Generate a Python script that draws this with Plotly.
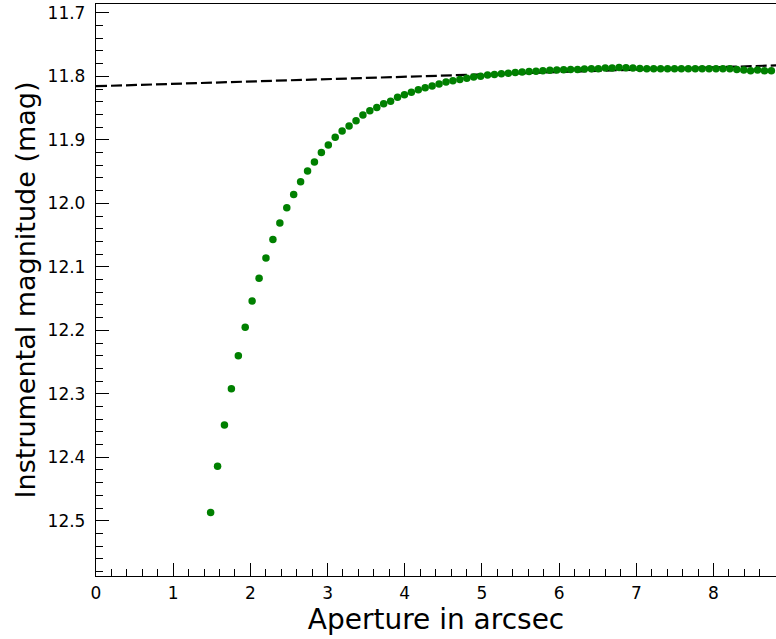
import plotly.graph_objects as go

aperture = [1.485, 1.575, 1.664, 1.754, 1.844, 1.933, 2.023, 2.113, 2.202, 2.292,
            2.382, 2.472, 2.561, 2.651, 2.741, 2.830, 2.920, 3.010, 3.099, 3.189,
            3.279, 3.369, 3.458, 3.548, 3.638, 3.727, 3.817, 3.907, 3.996, 4.086,
            4.176, 4.265, 4.355, 4.445, 4.535, 4.624, 4.714, 4.804, 4.893, 4.983,
            5.073, 5.162, 5.252, 5.342, 5.432, 5.521, 5.611, 5.701, 5.790, 5.880,
            5.970, 6.059, 6.149, 6.239, 6.328, 6.418, 6.508, 6.598, 6.687, 6.777,
            6.867, 6.956, 7.046, 7.136, 7.225, 7.315, 7.405, 7.495, 7.584, 7.674,
            7.764, 7.853, 7.943, 8.033, 8.122, 8.212, 8.302, 8.392, 8.481, 8.571,
            8.661, 8.750]

magnitude = [12.487, 12.414, 12.349, 12.292, 12.240, 12.195, 12.154, 12.118, 12.086, 12.057,
             12.031, 12.007, 11.986, 11.966, 11.949, 11.935, 11.920, 11.908, 11.896, 11.886,
             11.878, 11.870, 11.861, 11.854, 11.849, 11.843, 11.839, 11.833, 11.829, 11.825,
             11.821, 11.818, 11.815, 11.812, 11.809, 11.807, 11.805, 11.803, 11.801, 11.800,
             11.798, 11.797, 11.796, 11.795, 11.794, 11.793, 11.7925, 11.792, 11.791, 11.7905,
             11.790, 11.7895, 11.789, 11.789, 11.7885, 11.788, 11.788, 11.787, 11.787, 11.786,
             11.7865, 11.787, 11.7875, 11.788, 11.788, 11.788, 11.788, 11.788, 11.788, 11.788,
             11.788, 11.788, 11.788, 11.788, 11.788, 11.788, 11.789, 11.790, 11.791, 11.790,
             11.791, 11.791]

fit_x = [0.0, 9.0]
fit_y = [11.8155, 11.782]

fig = go.Figure()
fig.add_trace(go.Scatter(x=fit_x, y=fit_y, mode="lines",
                         line=dict(color="black", width=2.2, dash="11px,4px"),
                         showlegend=False))
fig.add_trace(go.Scatter(x=aperture, y=magnitude, mode="markers",
                         marker=dict(color="#008000", size=7.5, line=dict(width=0)),
                         showlegend=False))

font = "DejaVu Sans, sans-serif"
fig.update_layout(
    width=776, height=639,
    margin=dict(l=96, r=0, t=4, b=63),
    paper_bgcolor="white", plot_bgcolor="white",
    font=dict(family=font, color="black", size=17),
    xaxis=dict(
        range=[0, 8.81], tick0=0, dtick=1, ticks="inside", ticklen=12.5, tickwidth=1.3,
        tickcolor="black", showline=True, linecolor="black", linewidth=1.3, mirror=True,
        showgrid=False, zeroline=False,
        minor=dict(ticks="inside", ticklen=6.5, tickwidth=1.2, dtick=0.2, tickcolor="black", showgrid=False),
        tickfont=dict(size=17, family=font), ticklabelstandoff=1,
        title=dict(text="Aperture in arcsec", font=dict(size=28, family=font), standoff=6),
        automargin=False,
    ),
    yaxis=dict(
        range=[12.587, 11.686], tick0=11.7, dtick=0.1, tickformat=".1f",
        ticks="inside", ticklen=12.5, tickwidth=1.3, tickcolor="black",
        showline=True, linecolor="black", linewidth=1.3, mirror=False,
        showgrid=False, zeroline=False,
        minor=dict(ticks="inside", ticklen=6.5, tickwidth=1.2, dtick=0.02, tickcolor="black", showgrid=False),
        tickfont=dict(size=17, family=font), ticklabelstandoff=6,
        title=dict(text="Instrumental magnitude (mag)", font=dict(size=27, family=font), standoff=4),
        automargin=False,
    ),
)

fig.write_html("out.html")
